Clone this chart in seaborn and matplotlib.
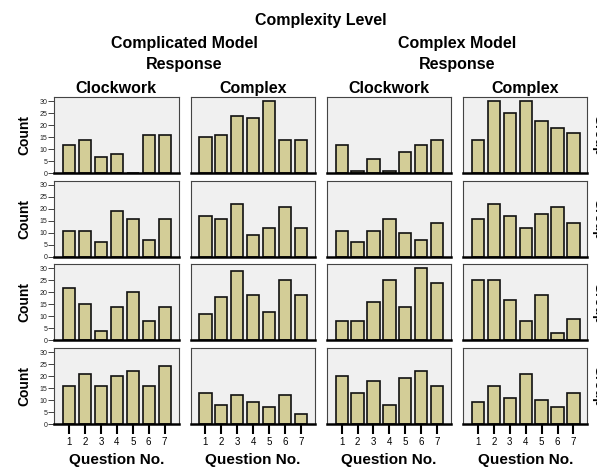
import matplotlib
matplotlib.use("Agg")
import matplotlib.pyplot as plt
import seaborn as sns
import pandas as pd

# Question numbers on the x axis
questions = [1, 2, 3, 4, 5, 6, 7]

# Counts per group (rows) for each model / response (columns)
g1_compl_clock = [12, 14, 7, 8, 0, 16, 16]
g1_compl_complex = [15, 16, 24, 23, 30, 14, 14]
g1_cplx_clock = [12, 1, 6, 1, 9, 12, 14]
g1_cplx_complex = [14, 30, 25, 30, 22, 19, 17]

g2_compl_clock = [11, 11, 6, 19, 16, 7, 16]
g2_compl_complex = [17, 16, 22, 9, 12, 21, 12]
g2_cplx_clock = [11, 6, 11, 16, 10, 7, 14]
g2_cplx_complex = [16, 22, 17, 12, 18, 21, 14]

g3_compl_clock = [22, 15, 4, 14, 20, 8, 14]
g3_compl_complex = [11, 18, 29, 19, 12, 25, 19]
g3_cplx_clock = [8, 8, 16, 25, 14, 30, 24]
g3_cplx_complex = [25, 25, 17, 8, 19, 3, 9]

g4_compl_clock = [16, 21, 16, 20, 22, 16, 24]
g4_compl_complex = [13, 8, 12, 9, 7, 12, 4]
g4_cplx_clock = [20, 13, 18, 8, 19, 22, 16]
g4_cplx_complex = [9, 16, 11, 21, 10, 7, 13]

rows = [
    [g1_compl_clock, g1_compl_complex, g1_cplx_clock, g1_cplx_complex],
    [g2_compl_clock, g2_compl_complex, g2_cplx_clock, g2_cplx_complex],
    [g3_compl_clock, g3_compl_complex, g3_cplx_clock, g3_cplx_complex],
    [g4_compl_clock, g4_compl_complex, g4_cplx_clock, g4_cplx_complex],
]

responses = ['Clockwork', 'Complex', 'Clockwork', 'Complex']
models = ['Complicated Model', 'Complex Model']

sns.set_style("white")
plt.rcParams['font.family'] = ['Liberation Sans', 'DejaVu Sans']
plt.rcParams['text.color'] = 'black'
plt.rcParams['axes.labelcolor'] = 'black'
plt.rcParams['xtick.color'] = 'black'
plt.rcParams['ytick.color'] = 'black'

W, H = 597, 468
fig, axes = plt.subplots(4, 4, figsize=(W / 100, H / 100), dpi=100, sharey=True)
fig.subplots_adjust(left=54.3 / W, right=587.3 / W, top=1 - 97.3 / H,
                    bottom=1 - 424 / H, wspace=0.097, hspace=0.099)

bar_color = '#d3cd97'

for r in range(4):
    for c in range(4):
        ax = axes[r][c]
        df = pd.DataFrame({'Question': questions, 'Count': rows[r][c]})
        sns.barplot(data=df, x='Question', y='Count', ax=ax, color=bar_color,
                    edgecolor='#111111', linewidth=1.2, width=0.77, saturation=1)
        ax.set_facecolor('#f0f0f0')
        ax.set_xlim(-0.93, 6.87)
        ax.set_ylim(0, 31.7)
        ax.set_yticks([0, 5, 10, 15, 20, 25, 30])
        ax.set_xlabel('')
        ax.set_ylabel('')
        for s in ['left', 'top', 'right']:
            ax.spines[s].set_color('#444444')
            ax.spines[s].set_linewidth(0.8)
        ax.spines['bottom'].set_color('black')
        ax.spines['bottom'].set_linewidth(1.8)
        if c == 0:
            ax.tick_params(axis='y', left=True, length=4, width=0.6,
                           labelsize=5, pad=1, colors='#222222')
            ax.set_ylabel('Count', fontsize=10, fontweight='bold', labelpad=6)
        else:
            ax.tick_params(axis='y', left=False, labelleft=False)
        if r == 3:
            ax.tick_params(axis='x', bottom=True, length=7, width=1.5,
                           labelsize=7, pad=2)
            ax.set_xlabel('Question No.', fontsize=11, fontweight='bold', labelpad=5)
        else:
            ax.tick_params(axis='x', bottom=False, labelbottom=False)
        if r == 0:
            ax.set_title(responses[c], fontsize=11.5, fontweight='bold', pad=3)
        if c == 3:
            ax.text(1.03, 0.5, 'Group', transform=ax.transAxes, rotation=270,
                    ha='left', va='center', fontsize=10, fontweight='bold')


def pair_center(c0):
    b0 = axes[0][c0].get_position()
    b1 = axes[0][c0 + 1].get_position()
    return (b0.x0 + b1.x1) / 2


for i, m in enumerate(models):
    xc = pair_center(2 * i)
    fig.text(xc, 1 - 43.3 / H, m, ha='center', va='center',
             fontsize=11.5, fontweight='bold')
    fig.text(xc, 1 - 64 / H, 'Response', ha='center', va='center',
             fontsize=11.5, fontweight='bold')

xall = (axes[0][0].get_position().x0 + axes[0][3].get_position().x1) / 2
fig.text(xall, 1 - 20.7 / H, 'Complexity Level', ha='center', va='center',
         fontsize=11.5, fontweight='bold')

fig.savefig('out.png', dpi=100)
